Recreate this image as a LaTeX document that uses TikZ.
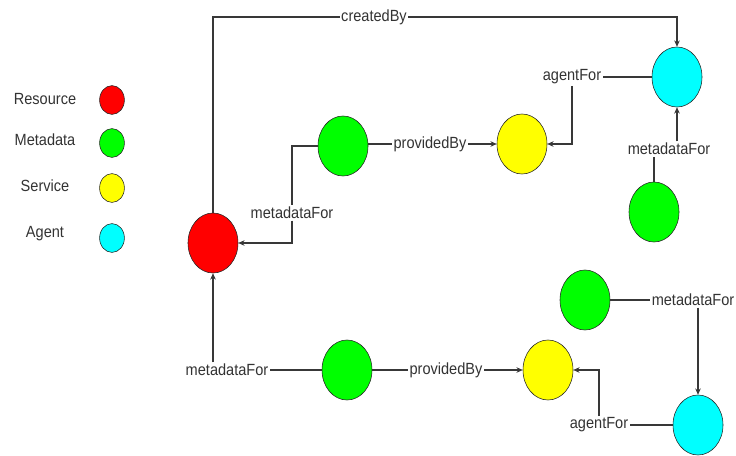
\documentclass[tikz,border=0pt]{standalone}
\usepackage{fontspec}
\setmainfont{Liberation Sans}[FakeStretch=0.9]
\usetikzlibrary{shapes.geometric,arrows.meta}
\definecolor{resred}{RGB}{255,0,0}
\definecolor{metagreen}{RGB}{0,255,0}
\definecolor{servyellow}{RGB}{255,255,0}
\definecolor{agentcyan}{RGB}{0,255,255}

\tikzset{
  ent/.style={ellipse,draw=black!85,thin,inner sep=0pt,minimum width=1.25cm,minimum height=1.5cm},
  key/.style={ellipse,draw=black!85,thin,inner sep=0pt,minimum width=0.62cm,minimum height=0.72cm},
  lbl/.style={inner sep=1pt,text=black!80,font=\fontsize{11.5}{13}\selectfont},
  link/.style={draw=black!78,line width=0.9pt},
  arr/.style={link,-{Stealth[length=4.5pt,width=4pt]}}
}

\begin{document}
\begin{tikzpicture}[x=0.025cm,y=-0.025cm]
\useasboundingbox (0,0) rectangle (736,455);
% legend
\node[lbl] (kres) at (45,99) {Resource};\node[key,fill=resred] (kR) at (112,100) {};
\node[lbl] (kmeta) at (45,140) {Metadata};\node[key,fill=metagreen] (kM) at (112,143) {};
\node[lbl] (kserv) at (45,186) {Service};\node[key,fill=servyellow] (kS) at (112,188) {};
\node[lbl] (kagent) at (45,234) {Agent};\node[key,fill=agentcyan] (kA) at (112,238) {};
% entities
\node[ent,fill=resred] (R) at (213,243) {};
\node[ent,fill=metagreen] (M1) at (343,146) {};
\node[ent,fill=servyellow] (S1) at (522,144) {};
\node[ent,fill=agentcyan] (A1) at (677,77) {};
\node[ent,fill=metagreen] (M2) at (654,212) {};
\node[ent,fill=metagreen] (M3) at (585,300) {};
\node[ent,fill=metagreen] (M4) at (347,370) {};
\node[ent,fill=servyellow] (S2) at (548,370) {};
\node[ent,fill=agentcyan] (A2) at (698,425) {};
% edge labels
\node[lbl] (lcb) at (374,17) {createdBy};
\node[lbl] (laf1) at (572,77) {agentFor};
\node[lbl] (lmf2) at (669,149) {metadataFor};
\node[lbl] (lpb1) at (430,144) {providedBy};
\node[lbl] (lmf1) at (292,213) {metadataFor};
\node[lbl] (lmf3) at (227,370) {metadataFor};
\node[lbl] (lpb2) at (446,370) {providedBy};
\node[lbl] (lmf4) at (693,300) {metadataFor};
\node[lbl] (laf2) at (599,425) {agentFor};
% connectors
\draw[link] (R.north) |- (lcb.west);\draw[arr] (lcb.east) -| (A1.north);
\draw[link] (A1.west) -- (laf1.east);\draw[arr] (laf1.south) |- (S1.east);
\draw[link] (M2.north) -- (M2.north |- lmf2.south);\draw[arr] (lmf2.north -| A1.south) -- (A1.south);
\draw[link] (M1.east |- lpb1.west) -- (lpb1.west);\draw[arr] (lpb1.east) -- (S1.west);
\draw[link] (M1.west) -| (lmf1.north);\draw[arr] (lmf1.south) |- (R.east);
\draw[link] (M4.west) -- (lmf3.east);\draw[arr] (lmf3.north -| R.south) -- (R.south);
\draw[link] (M4.east) -- (lpb2.west);\draw[arr] (lpb2.east) -- (S2.west);
\draw[link] (M3.east) -- (lmf4.west);\draw[arr] (lmf4.south -| A2.north) -- (A2.north);
\draw[link] (A2.west) -- (laf2.east);\draw[arr] (laf2.north) |- (S2.east);
\end{tikzpicture}
\end{document}
